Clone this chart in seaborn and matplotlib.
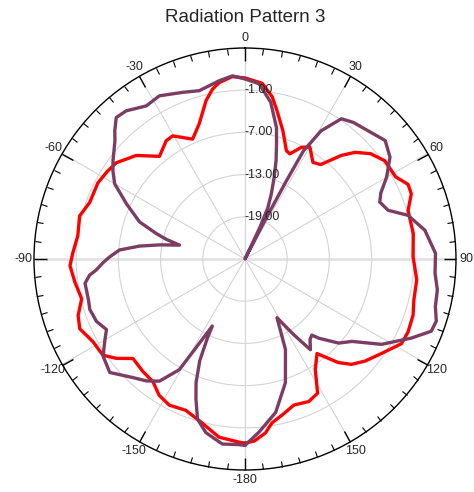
import numpy as np
import pandas as pd
import matplotlib; matplotlib.use("Agg")
import matplotlib.pyplot as plt
import seaborn as sns

TITLE = "Radiation Pattern 3"

# red trace: angle (deg, clockwise from top) and level (dB)
RED_DEG = [-180, -177.6, -171.7, -164.3, -158.6, -152.6, -147.8, -143.1, -137.8, -131.6,
           -127.7, -124.1, -118.6, -112.9, -108.7, -103.7, -97.8, -92.2, -88, -82.1,
           -75.4, -70, -62.6, -57.5, -53.2, -46.4, -39.8, -33.7, -30.4, -23.6,
           -18.7, -13.8, -10.8, -8.3, -4, 0, 5.6, 9.5, 12, 16.5,
           20.9, 23.1, 26.8, 30.1, 35.1, 38.7, 42.9, 45.9, 50, 54.9,
           61.4, 65.4, 68.6, 73.4, 81.4, 89.2, 96.9, 103.5, 108.5, 114.1,
           118.4, 124.7, 130.4, 134.7, 138, 142.7, 147.5, 151.6, 155.9, 161.5,
           166.6, 170.6, 173.3, 177, 180]
RED_DB = [1.2, 1.0, 0.6, -1.1, -1.9, -1.6, -2.1, -3.2, -3.4, -3.7,
          -1.9, -0.6, -0.4, 0.5, 0.05, -1.1, -0.6, -0.1, -0.5, -1.0,
          -0.7, -1.5, -1.45, -1.8, -2.15, -3.65, -6.0, -4.8, -4.7, -6.4,
          -4.7, -1.8, -0.4, 0.35, 1.0, 0.75, 0.1, -1.6, -3.3, -6.0,
          -8.5, -8.75, -7.2, -6.6, -8.2, -7.8, -4.9, -3.2, -1.7, -0.7,
          -0.6, 0.5, 0.4, -0.8, -0.8, -1.1, -0.4, -0.3, 0.2, 0.4,
          0.3, -1.4, -2.6, -3.7, -5.2, -8.1, -6.4, -3.3, -2.8, -3.1,
          -2.2, -1.4, -0.1, 0.9, 1.2]

# purple trace
PURPLE_DEG = [-180, -178, -173, -167.3, -163.5, -160.7, -158.4, -156, -154.6, -154,
              -151.1, -149.3, -145, -141, -136.6, -130, -124.4, -120, -117, -112.8,
              -108, -104.6, -98.6, -95.9, -94.2, -91.5, -89, -85.9, -83, -80.5,
              -78, -76, -74, -70.6, -65, -60, -56.2, -53.3, -47.7, -45.4,
              -42.3, -38.7, -32.8, -27.7, -20.5, -15.2, -8.3, -3.9, 0, 4.6,
              9.3, 13.5, 15.3, 17.5, 19.6, 22, 24, 25.2, 26.3, 27.3,
              27.9, 28.4, 30.7, 34.5, 38.5, 42.7, 49.8, 54.9, 60, 64,
              67.1, 71.2, 75, 80.9, 88.3, 94.3, 99.1, 104, 108, 111.2,
              115.4, 122, 127.6, 131.9, 137, 138.7, 141, 144.2, 147.2, 151.4,
              155.9, 161.9, 168.7, 175.4, 180]
PURPLE_DB = [1.5, 1.4, 1.5, 0.3, -1.25, -3.9, -6.1, -9.2, -12.5, -14.4,
             -10.6, -6.7, -3.8, -2.7, -1.8, 0.1, -0.55, -2.0, -2.9, -2.1,
             -1.8, -2.0, -2.0, -2.8, -3.8, -4.8, -5.8, -7.1, -9.9, -12.8,
             -15.5, -13.5, -11.9, -9.1, -6.4, -3.6, -2.4, -1.6, 0.0, 1.0,
             2.2, 2.0, 0.9, 1.2, 0.3, -0.2, 0.6, 1.1, 0.6, 0.0,
             -2.4, -5.8, -8.0, -10.3, -12.6, -15.0, -17.0, -20.0, -25.0, -19.0,
             -12.5, -7.5, -3.8, -0.8, -0.2, 0.15, 1.1, 0.2, -1.75, -3.5,
             -4.2, -3.5, -1.0, 0.9, 2.1, 2.1, 2.7, 2.9, 3.6, 3.4,
             1.2, -2.1, -5.8, -7.1, -9.6, -10.6, -10.3, -9.1, -12.2, -15.5,
             -10.9, -6.5, -2.75, -0.3, 1.5]

RINGS = [-19, -13, -7, -1]
THETA_TICKS = [0, 30, 60, 90, 120, 150, 180, 210, 240, 270, 300, 330]
THETA_LABELS = ["0", "30", "60", "90", "120", "150", "-180", "-150", "-120", "-90", "-60", "-30"]
R_MIN, R_MAX = -25, 5

RED = "#ff0000"
PURPLE = "#7b3d63"

sns.set_style("white")
plt.rcParams["font.family"] = ["Liberation Sans", "DejaVu Sans"]

fig = plt.figure(figsize=(4.74, 4.92), dpi=100)
ax = fig.add_axes([0.0717, 0.0447, 0.8903, 0.8577], projection="polar")
ax.set_theta_zero_location("N")
ax.set_theta_direction(-1)

red = pd.DataFrame({"t": np.deg2rad(RED_DEG), "r": RED_DB})
pur = pd.DataFrame({"t": np.deg2rad(PURPLE_DEG), "r": PURPLE_DB})
sns.lineplot(data=red, x="t", y="r", ax=ax, sort=False, estimator=None,
             color=RED, lw=2.4, zorder=3)
sns.lineplot(data=pur, x="t", y="r", ax=ax, sort=False, estimator=None,
             color=PURPLE, lw=2.4, zorder=4)

ax.set_ylim(R_MIN, R_MAX)
ax.set_yticks(RINGS)
ax.set_yticklabels([])
ax.set_xticks(np.deg2rad(THETA_TICKS))
ax.set_xticklabels(THETA_LABELS, fontsize=9)
ax.set_xticks(np.deg2rad(np.arange(0, 360, 5)), minor=True)
ax.tick_params(axis="x", which="both", bottom=False, top=True)
ax.tick_params(axis="x", which="major", direction="in", length=9, width=1,
               color="black", pad=0.5)
ax.tick_params(axis="x", which="minor", direction="in", length=4.5, width=0.8,
               color="black")
ax.set_xlabel(""); ax.set_ylabel("")
ax.grid(True, color="#d4d4d4", lw=0.8)
for i, gl in enumerate(ax.xaxis.get_gridlines()):
    if THETA_TICKS[i] in (90, 270):
        gl.set_linewidth(2); gl.set_color("#e2e2e2")
ax.spines["polar"].set_color("black")
ax.spines["polar"].set_linewidth(1)

for r in RINGS:
    ax.text(0, r, f"{r:.2f}", fontsize=9, ha="left", va="center", zorder=5)

fig.text(245 / 474, 1 - 17 / 492, TITLE, fontsize=13.5, ha="center", va="center")

fig.savefig("out.png", dpi=100)
